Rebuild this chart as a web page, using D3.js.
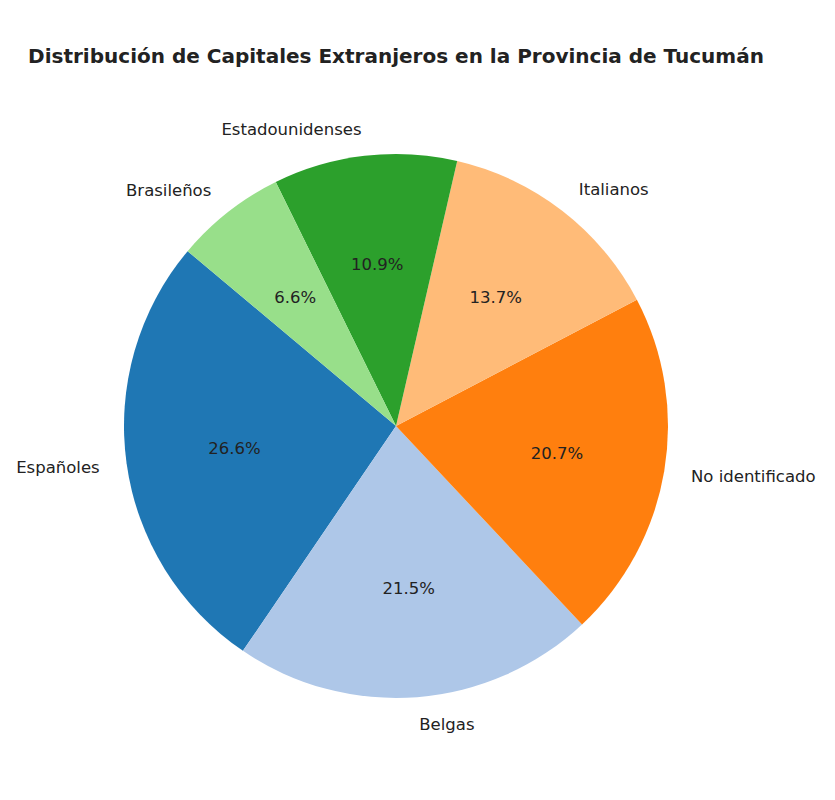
<!DOCTYPE html>
<html>
<head>
<meta charset="utf-8">
<script src="https://cdn.jsdelivr.net/npm/d3@7"></script>
<style>
body { margin: 0; background: #fff; }
text { font-family: "DejaVu Sans", sans-serif; fill: #222; }
</style>
</head>
<body>
<svg id="chart" width="835" height="800"></svg>
<script>
// data
var labels = ["Españoles", "Belgas", "No identificado", "Italianos", "Estadounidenses", "Brasileños"];
var shares = [26.6, 21.5, 20.7, 13.7, 10.9, 6.6];
var colors = ["#1f77b4", "#aec7e8", "#ff7f0e", "#ffbb78", "#2ca02c", "#98df8a"];
var title = "Distribución de Capitales Extranjeros en la Provincia de Tucumán";

var cx = 396, cy = 426, r = 272;
var start = 140; // degrees, counter-clockwise like matplotlib

var svg = d3.select("#chart");

svg.append("text")
    .attr("x", cx)
    .attr("y", 63)
    .attr("text-anchor", "middle")
    .style("font-weight", "bold")
    .style("font-size", "20px")
    .text(title);

var rows = labels.map(function (d, i) { return {label: d, value: shares[i], color: colors[i]}; });

// d3 angles run clockwise from 12 o'clock, so go backwards for ccw
var a0 = (90 - start) * Math.PI / 180;
var pie = d3.pie()
    .sort(null)
    .value(function (d) { return d.value; })
    .startAngle(a0)
    .endAngle(a0 - 2 * Math.PI);

var arcs = pie(rows);
var arc = d3.arc().innerRadius(0).outerRadius(r);
var labelArc = d3.arc().innerRadius(r * 1.1).outerRadius(r * 1.1);
var pctArc = d3.arc().innerRadius(r * 0.6).outerRadius(r * 0.6);

var g = svg.append("g").attr("transform", "translate(" + cx + "," + cy + ")");

g.selectAll("path.slice")
    .data(arcs)
    .enter().append("path")
        .attr("class", "slice")
        .attr("d", arc)
        .attr("fill", function (d) { return d.data.color; });

g.selectAll("text.lbl")
    .data(arcs)
    .enter().append("text")
        .attr("class", "lbl")
        .attr("x", function (d) { return labelArc.centroid(d)[0]; })
        .attr("y", function (d) { return labelArc.centroid(d)[1]; })
        .attr("dy", "0.35em")
        .attr("text-anchor", function (d) { return labelArc.centroid(d)[0] > 0 ? "start" : "end"; })
        .style("font-size", "16.5px")
        .text(function (d) { return d.data.label; });

g.selectAll("text.pct")
    .data(arcs)
    .enter().append("text")
        .attr("class", "pct")
        .attr("x", function (d) { return pctArc.centroid(d)[0]; })
        .attr("y", function (d) { return pctArc.centroid(d)[1]; })
        .attr("dy", "0.35em")
        .attr("text-anchor", "middle")
        .style("font-size", "16.5px")
        .text(function (d) { return d.data.value.toFixed(1) + "%"; });
</script>
</body>
</html>
